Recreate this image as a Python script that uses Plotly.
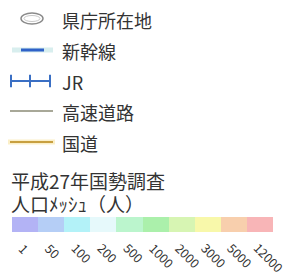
import plotly.graph_objects as go

# ---- data ----
legend_names = ["県庁所在地", "新幹線", "JR", "高速道路", "国道"]
title_lines = ["平成27年国勢調査", "人口ﾒｯｼｭ（人）"]
mesh_labels = ["1", "50", "100", "200", "500", "1000", "2000", "3000", "5000", "12000"]
mesh_colors = ["#b3b3f5", "#b5cef6", "#b3f2f8", "#e6f9fb", "#bbf5cd",
               "#abf0ab", "#d7f5b3", "#f8f8aa", "#f8cfad", "#f8b5b7"]

W, H = 283, 275
FONT = "Noto Sans CJK JP"
TXT = "#333333"

fig = go.Figure()

row_y = [19, 50, 81, 111, 142]

# 新幹線: halo + blue
fig.add_trace(go.Scatter(x=[12, 53], y=[row_y[1]] * 2, mode="lines",
                         line=dict(color="#d8eeee", width=5), hoverinfo="skip"))
fig.add_trace(go.Scatter(x=[21, 44], y=[row_y[1]] * 2, mode="lines",
                         line=dict(color="#2f62c8", width=3), hoverinfo="skip"))
# JR
fig.add_trace(go.Scatter(x=[11, 50], y=[row_y[2]] * 2, mode="lines",
                         line=dict(color="#3a6fc4", width=2), hoverinfo="skip"))
fig.add_trace(go.Scatter(x=[11, 30, 50], y=[row_y[2]] * 3, mode="markers",
                         marker=dict(symbol="line-ns", size=9,
                                     line=dict(color="#3a6fc4", width=2)),
                         hoverinfo="skip"))
# 高速道路
fig.add_trace(go.Scatter(x=[10, 53], y=[row_y[3]] * 2, mode="lines",
                         line=dict(color="#a8a898", width=2), hoverinfo="skip"))
# 国道
fig.add_trace(go.Scatter(x=[8, 55], y=[row_y[4]] * 2, mode="lines",
                         line=dict(color="#fbefc8", width=5), hoverinfo="skip"))
fig.add_trace(go.Scatter(x=[10, 53], y=[row_y[4]] * 2, mode="lines",
                         line=dict(color="#c8a040", width=2), hoverinfo="skip"))

shapes = [
    dict(type="circle", xref="x", yref="y", x0=21, x1=43, y0=13, y1=24,
         line=dict(color="#8a8a8a", width=1.5), fillcolor="white"),
    dict(type="circle", xref="x", yref="y", x0=24, x1=40, y0=15.5, y1=21.5,
         line=dict(color="#c8c8c8", width=1), fillcolor="rgba(0,0,0,0)"),
]

annotations = []
for name, y in zip(legend_names, row_y):
    annotations.append(dict(x=60, y=y + 1, xref="x", yref="y", text=name,
                            showarrow=False, xanchor="left", yanchor="middle",
                            font=dict(family=FONT, size=18, color=TXT)))
for t, y in zip(title_lines, [180, 203]):
    annotations.append(dict(x=9, y=y, xref="x", yref="y", text=t,
                            showarrow=False, xanchor="left", yanchor="middle",
                            font=dict(family=FONT, size=19, color=TXT)))

# colour bar
idx = list(range(len(mesh_labels)))
fig.add_trace(go.Heatmap(
    z=[idx], x=idx,
    colorscale=[[i / (len(mesh_colors) - 1), c] for i, c in enumerate(mesh_colors)],
    showscale=False, xaxis="x2", yaxis="y2", hoverinfo="skip"))

for i, lab in zip(idx, mesh_labels):
    annotations.append(dict(x=i - 0.5, y=236, xref="x2", yref="y", text=lab,
                            showarrow=False, xanchor="left", yanchor="top",
                            textangle=45,
                            font=dict(family=FONT, size=12.5, color=TXT)))

fig.update_layout(
    width=W, height=H, margin=dict(l=0, r=0, t=0, b=0),
    paper_bgcolor="white", plot_bgcolor="white", showlegend=False,
    xaxis=dict(range=[0, W], visible=False, domain=[0, 1]),
    yaxis=dict(range=[H, 0], visible=False, domain=[0, 1]),
    xaxis2=dict(domain=[12 / W, 273 / W], anchor="y2", visible=False,
                range=[-0.5, len(mesh_labels) - 0.5]),
    yaxis2=dict(domain=[1 - 232 / H, 1 - 217 / H], anchor="x2", visible=False,
                range=[-0.5, 0.5]),
    shapes=shapes, annotations=annotations,
)

fig.write_html("out.html", config={"displayModeBar": False})
with open("out.html", encoding="utf-8") as f:
    html = f.read()
html = html.replace("<head>", "<head><style>html,body{margin:0;padding:0;overflow:hidden;}</style>", 1)
with open("out.html", "w", encoding="utf-8") as f:
    f.write(html)
